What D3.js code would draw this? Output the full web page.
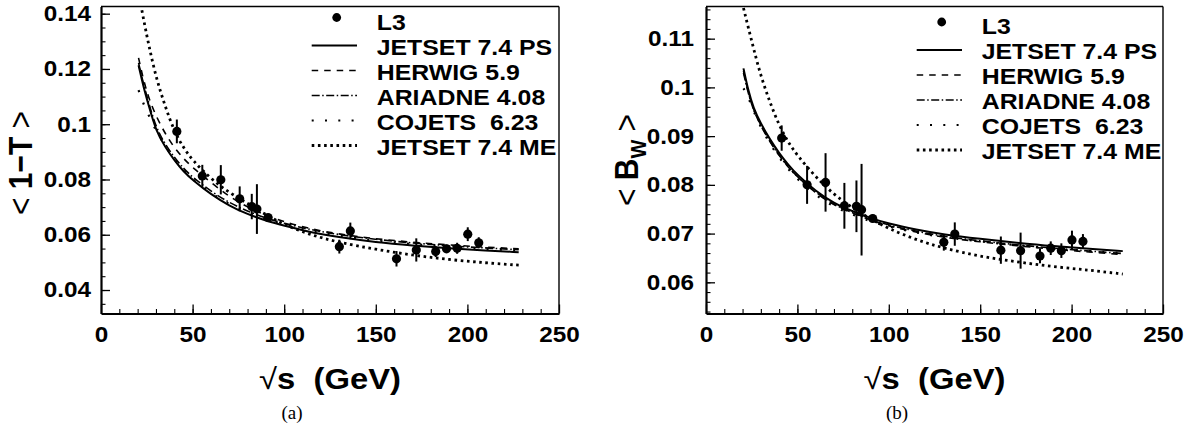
<!DOCTYPE html>
<html>
<head>
<meta charset="utf-8">
<script src="https://cdn.jsdelivr.net/npm/d3@7/dist/d3.min.js"></script>
<style>
  html, body { margin: 0; padding: 0; background: #fff; }
  svg { display: block; }
  text { font-family: "Liberation Sans", Arial, Helvetica, sans-serif; fill: #000; }
  text.tag { font-family: "Liberation Serif", "Times New Roman", serif; }
</style>
</head>
<body>
<svg id="chart" width="1201" height="431"></svg>
<script>
// ---- L3 measurements (centre-of-mass energy in GeV) ----
const energies = [41.4, 55.3, 65.4, 75.7, 82.3, 85.1, 91.2, 130.1, 136.1, 161.3, 172.1, 182.7, 188.6, 194.4, 200.2, 206.2];
const thrustL3  = [0.0974, 0.0813, 0.0799, 0.0730, 0.0702, 0.0693, 0.0662, 0.0557, 0.0614, 0.0513, 0.0545, 0.0539, 0.0549, 0.0551, 0.0602, 0.0571];
const thrustErr = [0.0043, 0.0040, 0.0053, 0.0045, 0.0046, 0.0090, 0.0012, 0.0025, 0.0030, 0.0028, 0.0042, 0.0020, 0.0015, 0.0020, 0.0025, 0.0020];
const bwL3      = [0.0896, 0.0800, 0.0805, 0.0757, 0.0756, 0.0749, 0.0731, 0.0682, 0.0699, 0.0666, 0.0665, 0.0654, 0.0670, 0.0665, 0.0687, 0.0684];
const bwErr     = [0.0026, 0.0039, 0.0060, 0.0047, 0.0053, 0.0094, 0.0008, 0.0017, 0.0024, 0.0028, 0.0037, 0.0015, 0.0014, 0.0015, 0.0019, 0.0015];

// ---- Monte Carlo model predictions ----
const modelEnergies = [20.5, 23, 26, 30, 35, 40, 45, 50, 60, 70, 80, 90, 100, 115, 130, 150, 170, 190, 210, 228];

const thrustJetsetPS = [0.1213, 0.1140, 0.1068, 0.0976, 0.0918, 0.0870, 0.0829, 0.0798, 0.0746, 0.0705, 0.0674, 0.0651, 0.0633, 0.0608, 0.0591, 0.0573, 0.0561, 0.0551, 0.0543, 0.0537];
const thrustHerwig   = [0.1240, 0.1165, 0.1095, 0.1030, 0.0966, 0.0915, 0.0876, 0.0843, 0.0789, 0.0738, 0.0700, 0.0670, 0.0646, 0.0620, 0.0602, 0.0585, 0.0573, 0.0563, 0.0555, 0.0549];
const thrustAriadne  = [0.1222, 0.1150, 0.1078, 0.0988, 0.0928, 0.0880, 0.0840, 0.0808, 0.0757, 0.0716, 0.0685, 0.0660, 0.0641, 0.0617, 0.0600, 0.0583, 0.0570, 0.0560, 0.0552, 0.0546];
const thrustCojets   = [0.1123, 0.1076, 0.1033, 0.0975, 0.0923, 0.0872, 0.0833, 0.0800, 0.0750, 0.0710, 0.0679, 0.0655, 0.0637, 0.0613, 0.0596, 0.0578, 0.0566, 0.0556, 0.0549, 0.0543];
const thrustJetsetME = [0.1478, 0.1387, 0.1288, 0.1170, 0.1065, 0.0974, 0.0915, 0.0869, 0.0802, 0.0752, 0.0714, 0.0672, 0.0636, 0.0598, 0.0572, 0.0547, 0.0526, 0.0510, 0.0498, 0.0490];

const bwJetsetPS = [0.1039, 0.0995, 0.0957, 0.0926, 0.0893, 0.0865, 0.0841, 0.0820, 0.0787, 0.0762, 0.0746, 0.0732, 0.0720, 0.0708, 0.0698, 0.0689, 0.0681, 0.0674, 0.0669, 0.0664];
const bwHerwig   = [0.1034, 0.0991, 0.0953, 0.0922, 0.0889, 0.0861, 0.0837, 0.0816, 0.0783, 0.0758, 0.0742, 0.0728, 0.0715, 0.0703, 0.0692, 0.0683, 0.0675, 0.0668, 0.0662, 0.0657];
const bwAriadne  = [0.1030, 0.0989, 0.0952, 0.0921, 0.0888, 0.0860, 0.0836, 0.0816, 0.0784, 0.0759, 0.0743, 0.0729, 0.0717, 0.0705, 0.0694, 0.0685, 0.0677, 0.0670, 0.0664, 0.0659];
const bwCojets   = [0.0998, 0.0982, 0.0951, 0.0918, 0.0884, 0.0856, 0.0832, 0.0812, 0.0778, 0.0755, 0.0739, 0.0725, 0.0714, 0.0702, 0.0692, 0.0684, 0.0676, 0.0669, 0.0664, 0.0660];
const bwJetsetME = [0.1163, 0.1125, 0.1080, 0.1023, 0.0969, 0.0922, 0.0887, 0.0860, 0.0816, 0.0780, 0.0753, 0.0730, 0.0710, 0.0687, 0.0670, 0.0653, 0.0642, 0.0632, 0.0625, 0.0617];

const modelNames = ["JETSET 7.4 PS", "HERWIG 5.9", "ARIADNE 4.08", "COJETS  6.23", "JETSET 7.4 ME"];
const dataName = "L3";

// ---- axis ticks ----
const xTicks = [0, 50, 100, 150, 200, 250];
const xMinorTicks = d3.range(10, 250, 10);
const thrustTicks = [0.04, 0.06, 0.08, 0.1, 0.12, 0.14];
const thrustMinorTicks = d3.range(7, 29).map(i => i * 0.005);
const bwTicks = [0.06, 0.07, 0.08, 0.09, 0.1, 0.11];
const bwMinorTicks = d3.range(27, 59).map(i => i * 0.002);

// ---- drawing ----
const svg = d3.select("#chart");
const SX = 1.13;                 // horizontal stretch of all lettering
const TOP = 6.5, BOTTOM = 313.5;
const fontBold = "bold";

const lineStyles = [
  { dash: null,             width: 2.0 },
  { dash: "6.5,6",          width: 1.6 },
  { dash: "8,2.5,1.5,2.5",  width: 1.6 },
  { dash: "2,11.3",         width: 2.2 },
  { dash: "2.6,3.6",        width: 2.8 }
];

const panels = [
  {
    id: "a", x0: 101, x1: 559, yDomain: [0.0315, 0.1426],
    yTicks: thrustTicks, yMinor: thrustMinorTicks, labelPad: 10,
    values: thrustL3, errors: thrustErr,
    models: [thrustJetsetPS, thrustHerwig, thrustAriadne, thrustCojets, thrustJetsetME],
    legendBase: 29.5, title: "thrust", tag: "(a)", tagX: 292
  },
  {
    id: "b", x0: 706, x1: 1163, yDomain: [0.0536, 0.1166],
    yTicks: bwTicks, yMinor: bwMinorTicks, labelPad: 12,
    values: bwL3, errors: bwErr,
    models: [bwJetsetPS, bwHerwig, bwAriadne, bwCojets, bwJetsetME],
    legendBase: 34, title: "bw", tag: "(b)", tagX: 897
  }
];

const fmt = d => String(+d.toFixed(3));

panels.forEach(p => {
  const x = d3.scaleLinear().domain([0, 250]).range([p.x0, p.x1]);
  const y = d3.scaleLinear().domain(p.yDomain).range([BOTTOM, TOP]);
  const g = svg.append("g");

  // clip region for the model curves
  const clipId = "clip-" + p.id;
  svg.append("clipPath").attr("id", clipId)
    .append("rect").attr("x", p.x0).attr("y", TOP)
    .attr("width", p.x1 - p.x0).attr("height", BOTTOM - TOP);

  // frame: top and right edges
  g.append("line").attr("x1", p.x0).attr("x2", p.x1).attr("y1", TOP).attr("y2", TOP)
    .attr("stroke", "#000").attr("stroke-width", 1.6);
  g.append("line").attr("x1", p.x1).attr("x2", p.x1).attr("y1", TOP).attr("y2", BOTTOM)
    .attr("stroke", "#000").attr("stroke-width", 1.4);

  // x axis: minor then major ticks pointing into the frame
  g.append("g").attr("transform", `translate(0,${BOTTOM})`)
    .call(d3.axisBottom(x).tickValues(xMinorTicks).tickSizeInner(-4.5).tickSizeOuter(0).tickFormat(""))
    .call(a => a.select(".domain").remove())
    .call(a => a.selectAll("line").attr("stroke-width", 1.1));
  const xa = g.append("g").attr("transform", `translate(0,${BOTTOM})`)
    .call(d3.axisBottom(x).tickValues(xTicks).tickSizeInner(-9).tickSizeOuter(0).tickPadding(13.5).tickFormat(d => d));
  xa.select(".domain").attr("stroke-width", 2.2);
  xa.selectAll("line").attr("stroke-width", 1.3);
  xa.selectAll("text").attr("font-size", 21.5).attr("font-weight", fontBold)
    .attr("transform", `scale(${SX},1)`);

  // y axis
  g.append("g").attr("transform", `translate(${p.x0},0)`)
    .call(d3.axisLeft(y).tickValues(p.yMinor).tickSizeInner(-4.5).tickSizeOuter(0).tickFormat(""))
    .call(a => a.select(".domain").remove())
    .call(a => a.selectAll("line").attr("stroke-width", 1.1));
  const ya = g.append("g").attr("transform", `translate(${p.x0},0)`)
    .call(d3.axisLeft(y).tickValues(p.yTicks).tickSizeInner(-9).tickSizeOuter(0).tickPadding(p.labelPad).tickFormat(fmt));
  ya.select(".domain").attr("stroke-width", 2.2);
  ya.selectAll("line").attr("stroke-width", 1.3);
  ya.selectAll("text").attr("font-size", 21.5).attr("font-weight", fontBold)
    .attr("x", -p.labelPad / SX)
    .attr("transform", `scale(${SX},1)`);

  // model curves
  const line = d3.line().x((d, i) => x(modelEnergies[i])).y(d => y(d)).curve(d3.curveBasis);
  const curves = g.append("g").attr("clip-path", `url(#${clipId})`);
  p.models.forEach((m, k) => {
    const st = lineStyles[k];
    curves.append("path").datum(m).attr("d", line)
      .attr("fill", "none").attr("stroke", "#000")
      .attr("stroke-width", st.width)
      .attr("stroke-dasharray", st.dash);
  });

  // L3 data with error bars
  const pts = g.append("g");
  pts.selectAll("line.err").data(p.values).join("line").attr("class", "err")
    .attr("x1", (d, i) => x(energies[i])).attr("x2", (d, i) => x(energies[i]))
    .attr("y1", (d, i) => y(d - p.errors[i])).attr("y2", (d, i) => y(d + p.errors[i]))
    .attr("stroke", "#000").attr("stroke-width", 2);
  pts.selectAll("circle").data(p.values).join("circle")
    .attr("cx", (d, i) => x(energies[i])).attr("cy", d => y(d)).attr("r", 4.6).attr("fill", "#000");

  // legend
  const lg = g.append("g");
  const lx0 = p.x0 + 210.7, lx1 = p.x0 + 256, tx = p.x0 + 275.7;
  const rowY = i => p.legendBase + 25 * i;
  lg.append("circle").attr("cx", p.x0 + 235.7).attr("cy", rowY(0) - 12).attr("r", 4.4).attr("fill", "#000");
  modelNames.forEach((n, k) => {
    const st = lineStyles[k];
    lg.append("line").attr("x1", lx0).attr("x2", lx1)
      .attr("y1", rowY(k + 1) - 9).attr("y2", rowY(k + 1) - 9)
      .attr("stroke", "#000").attr("stroke-width", st.width)
      .attr("stroke-dasharray", st.dash);
  });
  [dataName].concat(modelNames).forEach((n, i) => {
    lg.append("text").attr("transform", `translate(${tx},${rowY(i)}) scale(${SX},1)`)
      .attr("font-size", 22).attr("font-weight", fontBold)
      .style("white-space", "pre").text(n);
  });

  // x axis title
  const xt = g.append("text")
    .attr("transform", `translate(${(p.x0 + p.x1) / 2},389) scale(${SX},1)`)
    .attr("text-anchor", "middle").attr("font-size", 29).style("white-space", "pre");
  xt.append("tspan").attr("font-weight", "normal").text("\u221A");
  xt.append("tspan").attr("font-weight", fontBold).text("s  (GeV)");

  // y axis title
  const yt = g.append("text")
    .attr("text-anchor", "middle").attr("font-size", 30).style("white-space", "pre");
  if (p.title === "thrust") {
    yt.attr("transform", `translate(32,163) scale(${SX},1) rotate(-90)`);
    yt.append("tspan").attr("font-weight", "normal").text("< ");
    yt.append("tspan").attr("font-weight", fontBold).text("1\u2212T");
    yt.append("tspan").attr("font-weight", "normal").text(" >");
  } else {
    yt.attr("transform", `translate(${p.x0 - 68},160) scale(${SX},1) rotate(-90)`);
    yt.append("tspan").attr("font-weight", "normal").text("< ");
    yt.append("tspan").attr("font-weight", fontBold).text("B");
    yt.append("tspan").attr("font-weight", fontBold).attr("font-size", 20).attr("dy", 7).text("W");
    yt.append("tspan").attr("font-weight", "normal").attr("dy", -7).text(" >");
  }

  // sub-figure tag
  g.append("text").attr("class", "tag").attr("x", p.tagX).attr("y", 419)
    .attr("text-anchor", "middle").attr("font-size", 19)
    .text(p.tag);
});
</script>
</body>
</html>
